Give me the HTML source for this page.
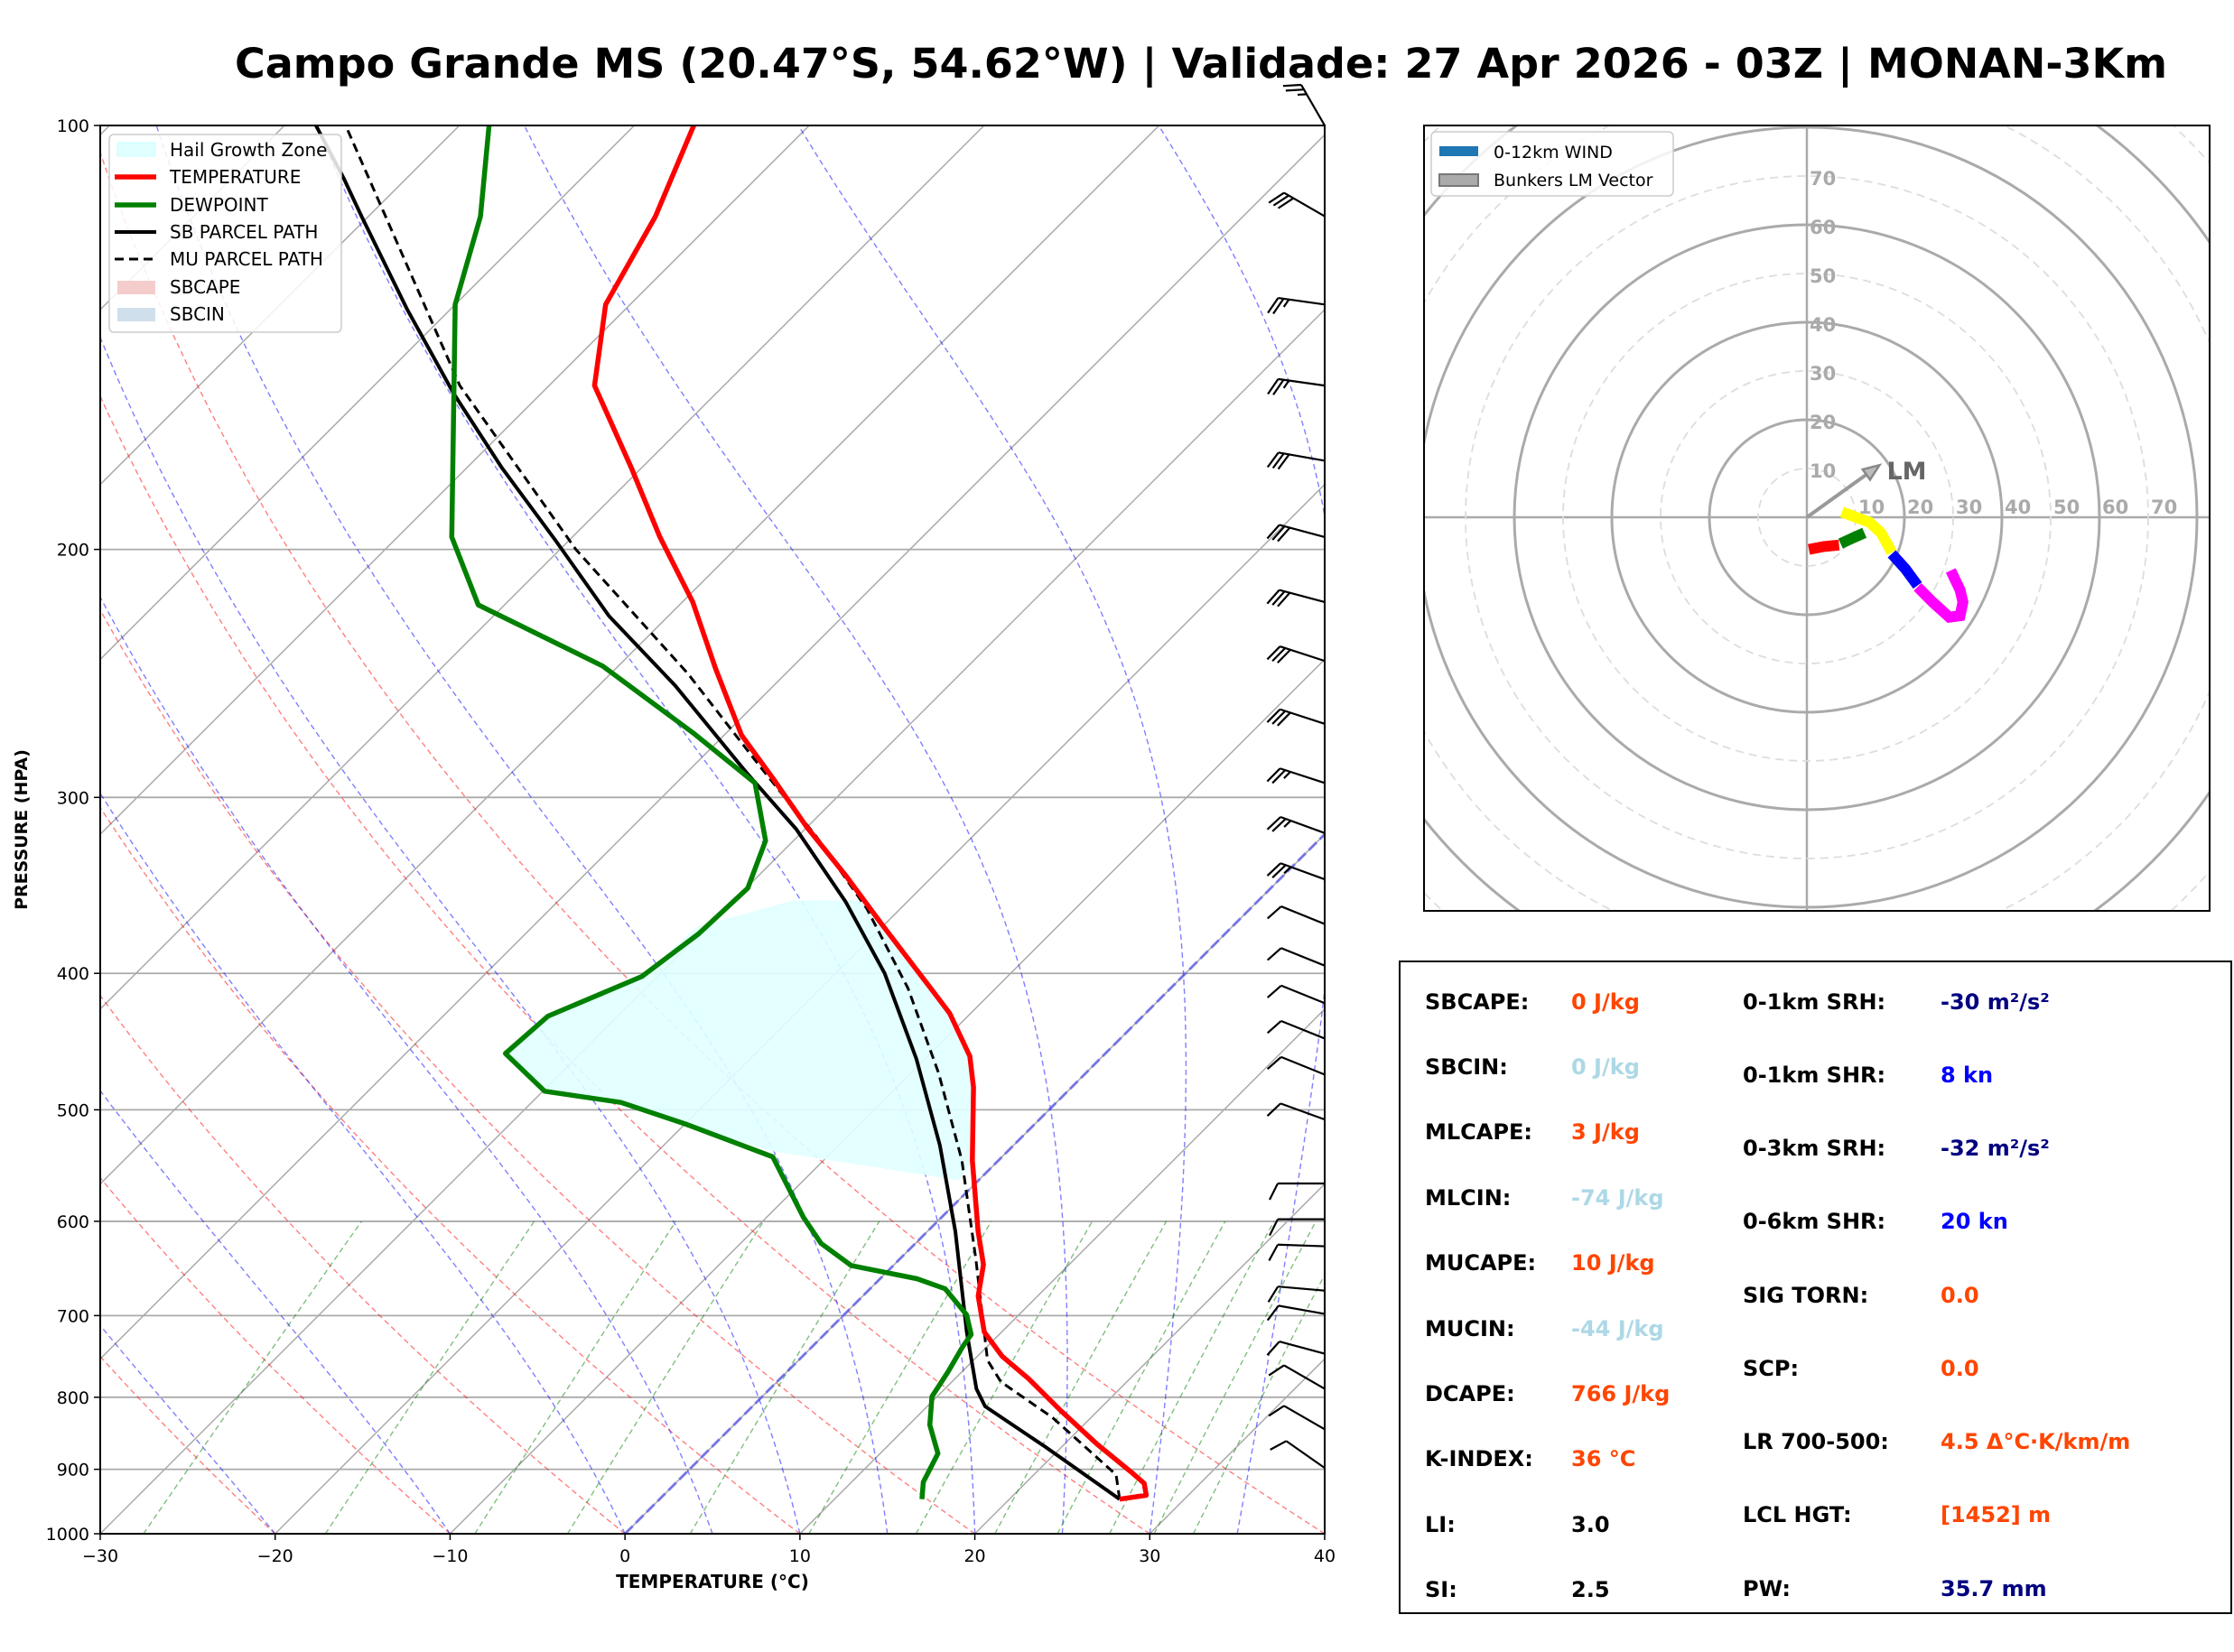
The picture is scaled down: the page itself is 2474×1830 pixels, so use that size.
<!DOCTYPE html>
<html><head><meta charset="utf-8"><title>Skew-T Campo Grande</title>
<style>
html,body{margin:0;padding:0;background:#fff;}
svg{display:block;font-family:"DejaVu Sans","Liberation Sans",sans-serif;}
</style></head>
<body>
<svg id="root" width="2474" height="1830" viewBox="0 0 2474 1830" xmlns="http://www.w3.org/2000/svg">
<defs>
<clipPath id="skewclip"><rect x="111" y="139" width="1356" height="1560"/></clipPath>
<clipPath id="hodoclip"><rect x="1577" y="139" width="870" height="870"/></clipPath>
</defs>
<rect width="2474" height="1830" fill="#fff"/>
<text x="1330" y="86" text-anchor="middle" font-size="45" font-weight="bold" textLength="2140" lengthAdjust="spacingAndGlyphs">Campo Grande MS (20.47°S, 54.62°W) | Validade: 27 Apr 2026 - 03Z | MONAN-3Km</text>

<g id="skew">
  <g id="bg" clip-path="url(#skewclip)"></g>
  <g id="hail" clip-path="url(#skewclip)"></g>
  <g id="prof" clip-path="url(#skewclip)"></g>
  <g id="barbs"></g>
  <rect x="111" y="139" width="1356" height="1560" fill="none" stroke="#000" stroke-width="2"/>
  <g id="axes"></g>
  <text x="789" y="1759" text-anchor="middle" font-size="20" font-weight="bold">TEMPERATURE (°C)</text>
  <text x="30" y="919" text-anchor="middle" font-size="19" font-weight="bold" transform="rotate(-90 30 919)">PRESSURE (HPA)</text>
  <g>
    <rect x="121" y="149" width="257" height="219" rx="5" fill="#fff" fill-opacity="0.85" stroke="#ccc" stroke-width="1.5"/>
    <g><rect x="130" y="158" width="42" height="15" fill="#e0ffff" stroke="#c8ffff"/><text x="188" y="173" font-size="20">Hail Growth Zone</text></g>
    <g><line x1="127" y1="196" x2="173" y2="196" stroke="#f00" stroke-width="5.5"/><text x="188" y="203" font-size="20">TEMPERATURE</text></g>
    <g><line x1="127" y1="227" x2="173" y2="227" stroke="#008000" stroke-width="5.5"/><text x="188" y="234" font-size="20">DEWPOINT</text></g>
    <g><line x1="127" y1="257" x2="173" y2="257" stroke="#000" stroke-width="4"/><text x="188" y="264" font-size="20">SB PARCEL PATH</text></g>
    <g><line x1="127" y1="287" x2="173" y2="287" stroke="#000" stroke-width="3" stroke-dasharray="10 6"/><text x="188" y="294" font-size="20">MU PARCEL PATH</text></g>
    <g><rect x="130" y="311" width="42" height="15" fill="#f4cccc"/><text x="188" y="325" font-size="20">SBCAPE</text></g>
    <g><rect x="130" y="341" width="42" height="15" fill="#cfe0ec"/><text x="188" y="355" font-size="20">SBCIN</text></g>
  </g>
</g>

<g id="hodo">
  <g id="hodobg" clip-path="url(#hodoclip)"></g>
  <g id="hodolines" clip-path="url(#hodoclip)"></g>
  <rect x="1577" y="139" width="870" height="870" fill="none" stroke="#000" stroke-width="2"/>
  <g>
    <rect x="1585" y="146" width="268" height="71" rx="5" fill="#fff" fill-opacity="0.85" stroke="#ccc" stroke-width="1.5"/>
    <g><rect x="1594" y="162" width="43" height="11" fill="#1f77b4"/><text x="1654" y="175" font-size="19">0-12km WIND</text></g>
    <g><rect x="1594" y="193" width="43" height="13" fill="#aaa" stroke="#777" stroke-width="2"/><text x="1654" y="206" font-size="19">Bunkers LM Vector</text></g>
  </g>
</g>

<g id="stats">
  <rect x="1550" y="1065" width="921" height="722" fill="#fff" stroke="#000" stroke-width="2"/>
  <g font-size="24" font-weight="bold">
    <g><text x="1578" y="1118">SBCAPE:</text><text x="1740" y="1118" fill="#ff4500">0 J/kg</text></g>
    <g><text x="1578" y="1190">SBCIN:</text><text x="1740" y="1190" fill="#add8e6">0 J/kg</text></g>
    <g><text x="1578" y="1262">MLCAPE:</text><text x="1740" y="1262" fill="#ff4500">3 J/kg</text></g>
    <g><text x="1578" y="1335">MLCIN:</text><text x="1740" y="1335" fill="#add8e6">-74 J/kg</text></g>
    <g><text x="1578" y="1407">MUCAPE:</text><text x="1740" y="1407" fill="#ff4500">10 J/kg</text></g>
    <g><text x="1578" y="1480">MUCIN:</text><text x="1740" y="1480" fill="#add8e6">-44 J/kg</text></g>
    <g><text x="1578" y="1552">DCAPE:</text><text x="1740" y="1552" fill="#ff4500">766 J/kg</text></g>
    <g><text x="1578" y="1624">K-INDEX:</text><text x="1740" y="1624" fill="#ff4500">36 °C</text></g>
    <g><text x="1578" y="1697">LI:</text><text x="1740" y="1697">3.0</text></g>
    <g><text x="1578" y="1769">SI:</text><text x="1740" y="1769">2.5</text></g>
    <g><text x="1930" y="1118">0-1km SRH:</text><text x="2149" y="1118" fill="#000080">-30 m²/s²</text></g>
    <g><text x="1930" y="1199">0-1km SHR:</text><text x="2149" y="1199" fill="#0000ff">8 kn</text></g>
    <g><text x="1930" y="1280">0-3km SRH:</text><text x="2149" y="1280" fill="#000080">-32 m²/s²</text></g>
    <g><text x="1930" y="1361">0-6km SHR:</text><text x="2149" y="1361" fill="#0000ff">20 kn</text></g>
    <g><text x="1930" y="1443">SIG TORN:</text><text x="2149" y="1443" fill="#ff4500">0.0</text></g>
    <g><text x="1930" y="1524">SCP:</text><text x="2149" y="1524" fill="#ff4500">0.0</text></g>
    <g><text x="1930" y="1605">LR 700-500:</text><text x="2149" y="1605" fill="#ff4500">4.5 Δ°C·K/km/m</text></g>
    <g><text x="1930" y="1686">LCL HGT:</text><text x="2149" y="1686" fill="#ff4500">[1452] m</text></g>
    <g><text x="1930" y="1768">PW:</text><text x="2149" y="1768" fill="#000080">35.7 mm</text></g>
  </g>
</g>
</svg>
<script>
// ---- sounding data ----
const tempP = [945,939,921,904,863,818,776,748,719,678,644,610,543,482,458,427,410,369,341,315,291,271,243,218,196,175,153,134,116,100];
const tempT = [26.3,27.6,26.8,25.4,21.8,17.9,14.2,11.4,9.0,6.6,5.1,2.9,-1.5,-5.6,-7.6,-11.2,-13.7,-20.2,-25.0,-30.0,-34.7,-39.0,-44.3,-49.4,-55.0,-60.6,-67.4,-71.4,-73.6,-76.6];
const dewP = [945,919,877,837,799,767,736,722,699,670,659,645,622,596,540,512,494,485,456,429,402,375,348,322,293,270,242,219,196,134,116,100];
const dewT = [15.0,14.1,13.3,11.2,9.7,9.2,8.6,8.4,7.0,4.3,2.1,-2.4,-5.4,-7.9,-13.1,-19.9,-24.9,-29.9,-34.3,-34.0,-30.9,-30.1,-29.9,-31.6,-35.5,-41.9,-50.9,-61.5,-66.9,-80.0,-83.6,-88.3];
const sbP = [945,867,812,789,719,610,530,460,400,356,316,288,250,223,197,175,155,135,116,109,100];
const sbT = [26.3,19.0,13.3,11.8,8.0,1.6,-4.2,-10.5,-17.2,-23.5,-30.5,-36.6,-45.6,-53.4,-60.8,-68.0,-75.0,-82.5,-90.4,-93.6,-98.2];
const muP = [945,908,827,780,753,639,543,471,410,360,320,285,245,200,153,100];
const muT = [26.3,24.7,17.8,12.8,10.8,4.4,-2.1,-8.4,-15.0,-21.9,-28.9,-36.2,-45.6,-59.1,-75.1,-96.5];
const hailP = [355,355,369,410,427,458,482,543,561,535,512,494,485,456,429,402,371];
const hailT = [-26.6,-22.6,-20.2,-13.7,-11.2,-7.6,-5.6,-1.5,-1.1,-13.5,-19.9,-24.9,-29.9,-34.3,-34.0,-30.9,-30.6];
// ---- wind barbs ----
const barbP = [898,843,789,745,698,672,625,598,564,508,472,445,420,395,369,343,318,293,266,240,218,196,173,153,134,116,100];
const barbDir = [305,300,300,285,280,275,272,270,270,290,292,292,292,292,292,290,290,288,288,288,285,285,280,278,278,300,330];
const barbSpd = [8,10,10,10,10,10,10,10,10,10,10,10,10,10,10,25,25,25,30,30,30,30,30,25,25,30,25];
// ---- hodograph ----
const hodoRedU = [0.4,3.5,6.6];   const hodoRedV = [-6.6,-6.0,-5.7];
const hodoGreenU = [6.9,9.5,11.8]; const hodoGreenV = [-5.4,-4.2,-3.2];
const hodoYellowU = [7.2,10.3,12.8,15.2,17.4]; const hodoYellowV = [1.1,-0.1,-1.0,-3.2,-7.2];
const hodoBlueU = [17.4,20.2,22.7]; const hodoBlueV = [-7.5,-10.6,-14.0];
const hodoMagU = [22.7,25.8,29.2,31.4,32.0,31.4,29.5]; const hodoMagV = [-14.3,-17.4,-20.5,-20.2,-17.4,-14.9,-10.9];
const lmU = [14.9]; const lmV = [10.7];
const xTicks = [-30,-20,-10,0,10,20,30,40];
const pTicks = [100,200,300,400,500,600,700,800,900,1000];
const ringKn = [10,20,30,40,50,60,70];

const NS='http://www.w3.org/2000/svg';
const X0=111,X1=1467,Y0=139,Y1=1699,KT=(X1-X0)/70;
function yP(p){return Y1-Math.log10(1000/p)*(Y1-Y0);}
function xT(T,p){return X0+(T+30)*KT+(Y1-yP(p));}
function mk(tag,attrs,parent){const e=document.createElementNS(NS,tag);for(const k in attrs)e.setAttribute(k,attrs[k]);parent.appendChild(e);return e;}
function pathFrom(Ts,Ps){return Ts.map((t,i)=>(i?'L':'M')+xT(t,Ps[i]).toFixed(1)+' '+yP(Ps[i]).toFixed(1)).join(' ');}

const bg=document.getElementById('bg');
pTicks.forEach(p=>{const l=mk('line',{x1:X0,x2:X1,y1:yP(p),y2:yP(p),stroke:'#aaa','stroke-width':1.8},bg);

});
for(let T=-160;T<=40;T+=10){const l=mk('line',{x1:xT(T,1000),y1:yP(1000),x2:xT(T,100),y2:yP(100),stroke:'#aaa','stroke-width':1.5},bg);

}
const pl=[];for(let p=1000;p>=100;p-=10)pl.push(p);
for(let th=233.15;th<=314;th+=10){const Ts=pl.map(p=>th*Math.pow(p/1000,0.286)-273.15);
const e=mk('path',{d:pathFrom(Ts,pl),fill:'none',stroke:'#f00','stroke-opacity':0.5,'stroke-width':1.4,'stroke-dasharray':'6 4'},bg);

}
function moist(T0){let T=T0+273.15;const Ts=[],Ps=[];for(let p=1000;p>=100;p-=5){Ts.push(T-273.15);Ps.push(p);
const es=6.112*Math.exp(17.67*(T-273.15)/(T-29.65));const rs=0.622*es/(p-es);
const dT=(287.04*T+2.501e6*rs)/(1005.7+2.501e6*2.501e6*rs*0.622/(287.04*T*T))/p;T-=dT*5;}return [Ts,Ps];}
[-20,-10,0,5,10,15,20,25,30,35].forEach(T0=>{const r=moist(T0);
const e=mk('path',{d:pathFrom(r[0],r[1]),fill:'none',stroke:'#00f','stroke-opacity':0.5,'stroke-width':1.4,'stroke-dasharray':'6 4'},bg);

});
[0.4,1,2,3,5,8,12,16,20,24,28,32].forEach(w=>{const Ps=[],Ts=[];for(let p=1000;p>=600;p-=20){const ee=w*p/(622+w);const L=Math.log(ee/6.112);Ts.push(243.5*L/(17.67-L));Ps.push(p);}
const e=mk('path',{d:pathFrom(Ts,Ps),fill:'none',stroke:'#008000','stroke-opacity':0.5,'stroke-width':1.4,'stroke-dasharray':'6 4'},bg);

});
{const e=mk('line',{x1:xT(0,1000),y1:yP(1000),x2:xT(0,100),y2:yP(100),stroke:'#5555ee','stroke-opacity':0.7,'stroke-width':3,'stroke-dasharray':'12 5'},bg);

}

{const pts=hailT.map((t,i)=>xT(t,hailP[i]).toFixed(1)+','+yP(hailP[i]).toFixed(1)).join(' ');
const e=mk('polygon',{points:pts,fill:'#e0ffff','fill-opacity':0.9},document.getElementById('hail'));

}

const prof=document.getElementById('prof');
{const e=mk('path',{d:pathFrom(muT,muP),fill:'none',stroke:'#000','stroke-width':3,'stroke-dasharray':'10 6'},prof);

}
{const e=mk('path',{d:pathFrom(sbT,sbP),fill:'none',stroke:'#000','stroke-width':4,'stroke-linejoin':'round'},prof);

}
{const e=mk('path',{d:pathFrom(dewT,dewP),fill:'none',stroke:'#008000','stroke-width':5.5,'stroke-linejoin':'round'},prof);

}
{const e=mk('path',{d:pathFrom(tempT,tempP),fill:'none',stroke:'#f00','stroke-width':5.5,'stroke-linejoin':'round'},prof);

}

const ax=document.getElementById('axes');
xTicks.forEach(T=>{const x=X0+(T+30)*KT;mk('line',{x1:x,x2:x,y1:Y1,y2:Y1+7,stroke:'#000','stroke-width':1.5},ax);
const t=mk('text',{x:x,y:Y1+31,'text-anchor':'middle','font-size':19},ax);t.textContent=(T<0?'\u2212'+(-T):T);

});
pTicks.forEach(p=>{const y=yP(p);mk('line',{x1:X0-7,x2:X0,y1:y,y2:y,stroke:'#000','stroke-width':1.5},ax);
const t=mk('text',{x:X0-12,y:y+7,'text-anchor':'end','font-size':19},ax);t.textContent=p;

});

const bb=document.getElementById('barbs');
barbP.forEach((p,i)=>{const bx=X1,by=yP(p);const d=barbDir[i]*Math.PI/180;const L=52;
const sx=Math.sin(d),sy=-Math.cos(d);
const tx=bx+sx*L,ty=by+sy*L;
const g=mk('g',{stroke:'#000','stroke-width':2.2,fill:'none'},bb);


mk('line',{x1:bx,y1:by,x2:tx,y2:ty},g);
let spd=Math.round(barbSpd[i]/5)*5;let full=Math.floor(spd/10),half=(spd%10)>=5?1:0;
const px=sy,py=-sx;
let pos=0;const FL=20;
const feather=(k,len)=>{const ox=tx-sx*k,oy=ty-sy*k;mk('line',{x1:ox,y1:oy,x2:ox+(px*0.9+sx*0.45)*len,y2:oy+(py*0.9+sy*0.45)*len},g);};
for(let f=0;f<full;f++){feather(pos,FL);pos+=6;}
if(half){if(full===0)pos=6;feather(pos,FL*0.5);}
});

const HCX=2001,HCY=573,HK=5.4;
const hb=document.getElementById('hodobg');
mk('line',{x1:1577,x2:2447,y1:HCY,y2:HCY,stroke:'#aaa','stroke-width':2.5},hb);
mk('line',{x1:HCX,x2:HCX,y1:139,y2:1009,stroke:'#aaa','stroke-width':2.5},hb);
for(let r=10;r<=110;r+=10){const solid=r%20===0;const c=mk('circle',{cx:HCX,cy:HCY,r:r*HK,fill:'none',stroke:solid?'#aaa':'#ddd','stroke-width':solid?3:1.8,'stroke-dasharray':solid?'none':'9 6'},hb);

}
ringKn.forEach(r=>{const a=mk('text',{x:HCX+r*HK+3,y:HCY-4,'font-size':21,'font-weight':'bold',fill:'#aaa'},hb);a.textContent=r;


const b=mk('text',{x:HCX+3,y:HCY-r*HK+10,'font-size':21,'font-weight':'bold',fill:'#aaa'},hb);b.textContent=r;

});
const hl=document.getElementById('hodolines');
function hpath(U,V){return U.map((u,i)=>(i?'L':'M')+(HCX+u*HK).toFixed(1)+' '+(HCY-V[i]*HK).toFixed(1)).join(' ');}
[[hodoRedU,hodoRedV,'#ff0000','hodo-0-1km'],[hodoGreenU,hodoGreenV,'#008000','hodo-1-3km'],[hodoYellowU,hodoYellowV,'#ffff00','hodo-3-6km'],[hodoBlueU,hodoBlueV,'#0000ff','hodo-6-9km'],[hodoMagU,hodoMagV,'#ff00ff','hodo-9-12km']].forEach(s=>{
const e=mk('path',{d:hpath(s[0],s[1]),fill:'none',stroke:s[2],'stroke-width':12,'stroke-linejoin':'miter'},hl);

});
{const ex=HCX+lmU[0]*HK,ey=HCY-lmV[0]*HK;const ang=Math.atan2(ey-HCY,ex-HCX);
const e=mk('line',{x1:HCX,y1:HCY,x2:ex-Math.cos(ang)*14,y2:ey-Math.sin(ang)*14,stroke:'#999','stroke-width':4},hl);


const bx=ex-Math.cos(ang)*18,by=ey-Math.sin(ang)*18,nx=-Math.sin(ang),ny=Math.cos(ang);
const h=mk('polygon',{points:`${ex},${ey} ${bx+nx*7},${by+ny*7} ${bx-nx*7},${by-ny*7}`,fill:'#bbb',stroke:'#888','stroke-width':2.5},hl);


const t=mk('text',{x:ex+8,y:ey+16,'font-size':27,'font-weight':'bold',fill:'#666'},hl);t.textContent='LM';

}
</script>
</body></html>
